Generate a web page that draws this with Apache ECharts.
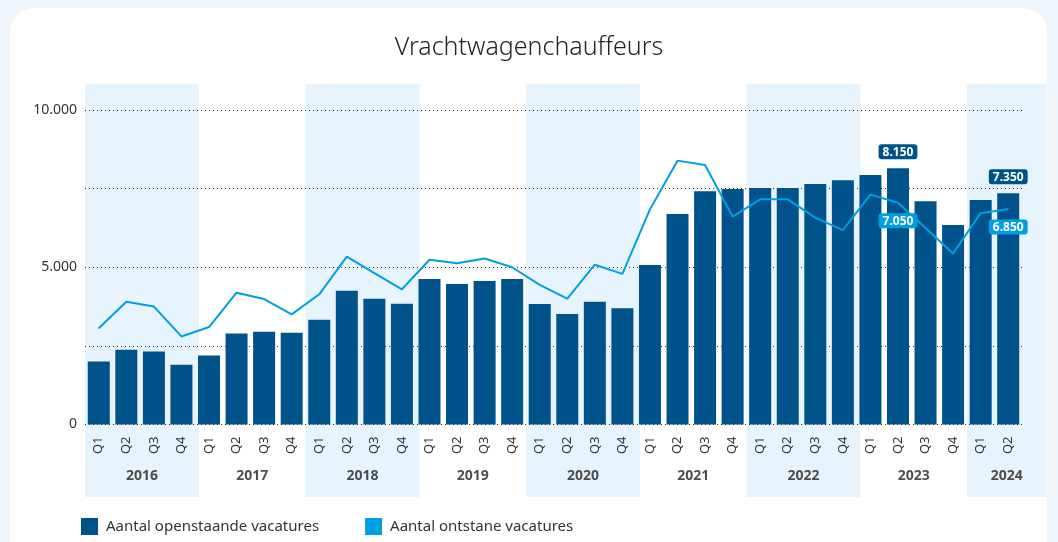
<!DOCTYPE html>
<html>
<head>
<meta charset="utf-8">
<script src="https://cdn.jsdelivr.net/npm/echarts@6/dist/echarts.min.js"></script>
<style>
  html, body { margin: 0; padding: 0; width: 1058px; height: 542px; overflow: hidden; background: #eef6fc; }
  .card { position: absolute; left: 10px; top: 8px; width: 1037px; height: 620px; background: #fff; border-radius: 24px; }
  #chart { position: absolute; left: 0; top: 0; width: 1058px; height: 542px; }
</style>
</head>
<body>
<div class="card"></div>
<div id="chart"></div>
<script>
// jaren en kwartalen
const years = ['2016', '2017', '2018', '2019', '2020', '2021', '2022', '2023', '2024']
const quarters = ['Q1', 'Q2', 'Q3', 'Q4']
const quartersPerYear = [4, 4, 4, 4, 4, 4, 4, 4, 2]

// Aantal openstaande vacatures (staven)
const openstaand = [
  2000, 2380, 2320, 1900,
  2190, 2890, 2950, 2920,
  3330, 4250, 4000, 3840,
  4630, 4470, 4560, 4630,
  3830, 3510, 3900, 3700,
  5070, 6690, 7420, 7490,
  7520, 7520, 7650, 7770,
  7930, 8150, 7100, 6340,
  7140, 7350
]

// Aantal ontstane vacatures (lijn)
const ontstaan = [
  3060, 3900, 3750, 2800,
  3100, 4190, 3990, 3500,
  4140, 5340, 4810, 4300,
  5240, 5130, 5280, 5000,
  4440, 4000, 5080, 4790,
  6840, 8390, 8250, 6610,
  7160, 7160, 6580, 6180,
  7310, 7050, 6250, 5440,
  6720, 6850
]

// punten met een label
const labelled = ['2023 Q2', '2024 Q2']

const yTicks = [0, 5000, 10000]

const categories = []
years.forEach((y, i) => {
  for (let q = 0; q < quartersPerYear[i]; q++) categories.push(y + ' ' + quarters[q])
})

function fmt(v) {
  return String(v).replace(/\B(?=(\d{3})+(?!\d))/g, '.')
}

const barColor = '#00528a'
const lineColor = '#009fe3'
const font = "'Noto Sans', 'Open Sans', sans-serif"

// achtergrondbanden per even jaar + jaarlabels (op een eigen grid in kwartaal-eenheden)
const bandWidth = 4.14
const bands = []
const yearLabels = []
let start = -0.5
years.forEach((y, i) => {
  let end = i === years.length - 1 ? 34.4 : start + bandWidth
  if (i % 2 === 0) bands.push([{ xAxis: start, yAxis: 0 }, { xAxis: end, yAxis: 1 }])
  yearLabels.push({ value: [(start + end) / 2, 0.05], name: y })
  start += quartersPerYear[i]
})

const chart = echarts.init(document.getElementById('chart'), null, { renderer: 'canvas' })

const option = {
  animation: false,
  textStyle: { fontFamily: font },
  title: {
    text: 'Vrachtwagenchauffeurs',
    left: 'center',
    top: 30,
    textStyle: { fontFamily: font, fontSize: 25, fontWeight: 300, color: '#222' }
  },
  legend: {
    left: 76,
    top: 513,
    itemWidth: 17,
    itemHeight: 17,
    itemGap: 46,
    icon: 'rect',
    textStyle: { fontFamily: font, fontSize: 15, color: '#333', padding: [0, 0, 0, 3] },
    data: ['Aantal openstaande vacatures', 'Aantal ontstane vacatures']
  },
  grid: [
    { left: 85, right: 36, top: 110, bottom: 117.5, outerBoundsMode: 'none', containLabel: false },
    { left: 85, right: 11, top: 84, bottom: 45, outerBoundsMode: 'none', containLabel: false }
  ],
  xAxis: [
    {
      type: 'category',
      gridIndex: 0,
      z: 5,
      data: categories,
      axisLine: { show: false },
      axisTick: { show: false },
      axisLabel: {
        rotate: 90,
        margin: 12,
        fontSize: 13,
        color: '#333',
        fontFamily: font,
        formatter: v => v.split(' ')[1]
      }
    },
    { type: 'value', gridIndex: 1, min: -0.5, max: 34.407, show: false }
  ],
  yAxis: [
    {
      type: 'value',
      gridIndex: 0,
      z: 5,
      min: 0,
      max: 10000,
      interval: 2500,
      axisLine: { show: false },
      axisTick: { show: false },
      axisLabel: {
        margin: 8,
        fontSize: 14,
        color: '#333',
        fontFamily: font,
        formatter: v => (yTicks.indexOf(v) >= 0 ? fmt(v) : '')
      },
      splitLine: { lineStyle: { color: '#333', type: [1, 3], width: 1 } }
    },
    { type: 'value', gridIndex: 1, min: 0, max: 1, show: false }
  ],
  series: [
    {
      name: 'banden',
      type: 'line',
      xAxisIndex: 1,
      yAxisIndex: 1,
      z: -10,
      silent: true,
      data: [],
      markArea: {
        silent: true,
        z: -10,
        itemStyle: { color: '#e8f4fd' },
        data: bands
      }
    },
    {
      name: 'jaren',
      type: 'scatter',
      xAxisIndex: 1,
      yAxisIndex: 1,
      z: 6,
      silent: true,
      symbolSize: 1,
      itemStyle: { color: 'rgba(0,0,0,0)' },
      label: {
        show: true,
        position: 'inside',
        formatter: '{b}',
        fontFamily: font,
        fontSize: 14,
        fontWeight: 'bold',
        color: '#222'
      },
      data: yearLabels
    },
    {
      name: 'Aantal openstaande vacatures',
      type: 'bar',
      z: 7,
      barWidth: 22,
      itemStyle: { color: barColor },
      data: openstaand.map((v, i) => labelled.indexOf(categories[i]) >= 0 ? {
        value: v,
        label: {
          show: true,
          position: 'top',
          distance: 9,
          formatter: p => fmt(p.value),
          backgroundColor: barColor,
          color: '#fff',
          fontWeight: 'bold',
          fontSize: 12,
          fontFamily: font,
          padding: [2, 4, 1, 4],
          borderRadius: 3
        }
      } : v)
    },
    {
      name: 'Aantal ontstane vacatures',
      type: 'line',
      z: 8,
      symbol: 'circle',
      symbolSize: 1,
      showSymbol: true,
      itemStyle: { color: lineColor },
      lineStyle: { color: lineColor, width: 2 },
      data: ontstaan.map((v, i) => labelled.indexOf(categories[i]) >= 0 ? {
        value: v,
        label: {
          show: true,
          position: 'bottom',
          distance: 10,
          formatter: p => fmt(p.value),
          backgroundColor: lineColor,
          color: '#fff',
          fontWeight: 'bold',
          fontSize: 12,
          fontFamily: font,
          padding: [2, 4, 1, 4],
          borderRadius: 3
        }
      } : v)
    }
  ]
}

chart.setOption(option)
</script>
</body>
</html>
